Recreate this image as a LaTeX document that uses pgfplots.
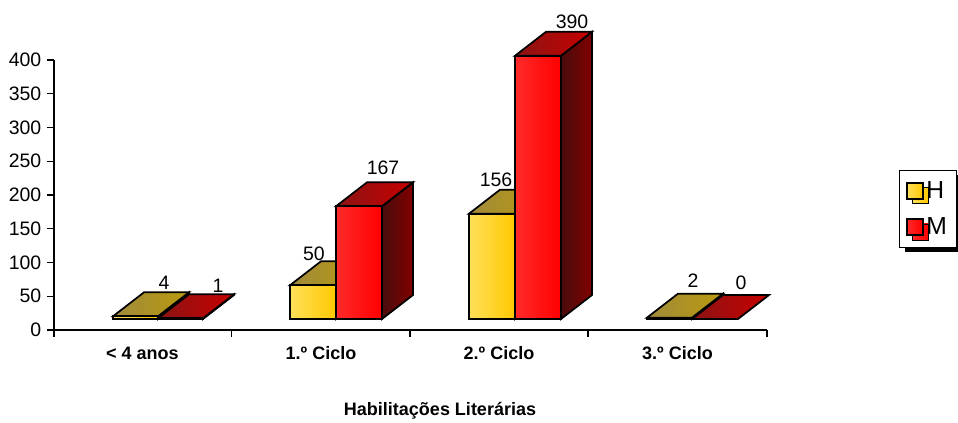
\documentclass[border=0pt]{standalone}
\usepackage{fontspec}
\setmainfont{Liberation Sans}
\usepackage{pgfplots}
\pgfplotsset{compat=1.18}
\usetikzlibrary{shadows}
\definecolor{hl}{HTML}{FFE05A}\definecolor{hr}{HTML}{FFC800}
\definecolor{htl}{HTML}{A08A3C}\definecolor{htr}{HTML}{BA9A0E}
\definecolor{ml}{HTML}{FF2A2A}\definecolor{mr}{HTML}{FF0000}
\definecolor{mtl}{HTML}{8A1414}\definecolor{mtr}{HTML}{C80000}
\definecolor{msl}{HTML}{4A0C0C}\definecolor{msr}{HTML}{800000}
\pgfplotsset{
    face/.style={draw=black, line width=1.3pt, line join=miter, mark=none, forget plot},
    hfront/.style={face, left color=hl, right color=hr},
    htop/.style={face, left color=htl, right color=htr},
    hside/.style={face, left color=msl, right color=msr},
    mfront/.style={face, left color=ml, right color=mr},
    mtop/.style={face, left color=mtl, right color=mtr},
    mside/.style={face, left color=msl, right color=msr},
    vals/.style={draw=none, mark=none, forget plot, point meta=explicit symbolic, nodes near coords,
        every node near coord/.append style={anchor=center, font=\fontsize{14.6}{16}\selectfont, text=black}},
}
\begin{document}
\begin{tikzpicture}[x=1pt,y=1pt]
\path[use as bounding box] (-40.5,-69) rectangle (678,247.5);
\begin{axis}[
    scale only axis, width=534.75pt, height=202.5pt,
    at={(0pt,0pt)}, anchor=south west,
    clip=false,
    xmin=54, xmax=767, ymin=0, ymax=400,
    axis x line=bottom, axis y line=left,
    axis line style={-, line width=0.8pt, black},
    tick align=outside, tick style={black, line width=0.8pt},
    xtick pos=bottom, ytick pos=left,
    major tick length=5pt,
    xtick={54,231.5,410,588,767}, xticklabels={},
    extra x ticks={142.5,321,499,677.5},
    extra x tick labels={< 4 anos,1.º Ciclo,2.º Ciclo,3.º Ciclo},
    extra x tick style={major tick length=0pt, tick label style={yshift=-9pt,
        font=\fontsize{13.5}{16}\bfseries}},
    ytick={0,50,...,400},
    /pgf/number format/assume math mode=true,
    y tick label style={font=\fontsize{14.6}{16}\selectfont, xshift=-1pt},
    xlabel={\fontsize{13.5}{16}\bfseries Habilitações Literárias},
    xlabel style={at={(axis description cs:0.5414,-0.3)}, anchor=center},
    legend style={at={(axis description cs:1.1851,0.5911)}, anchor=north west,
        draw=black, line width=0.6pt, fill=white,
        general shadow={fill=black, shadow xshift=4pt, shadow yshift=-3.5pt},
        font=\fontsize{18.5}{20}\selectfont, row sep=9pt,
        inner xsep=5pt, inner ysep=6pt, legend cell align=left},
    legend image code/.code={\draw[#1, line width=1.2pt] (0pt,-6pt) rectangle (12pt,6pt);},
]
% < 4 anos
\addplot[hside] coordinates {(158,16.3)(189,51.8)(189,55.8)(158,20.3)} --cycle;
\addplot[htop] coordinates {(113,20.3)(158,20.3)(189,55.8)(144,55.8)} --cycle;
\addplot[hfront] coordinates {(113,16.3)(158,16.3)(158,20.3)(113,20.3)} --cycle;
\addplot[mside] coordinates {(203,16.3)(234,51.8)(234,52.8)(203,17.3)} --cycle;
\addplot[mtop] coordinates {(158,17.3)(203,17.3)(234,52.8)(189,52.8)} --cycle;
\addplot[mfront] coordinates {(158,16.3)(203,16.3)(203,17.3)(158,17.3)} --cycle;
% 1.o Ciclo
\addplot[hside] coordinates {(336,16.3)(367,51.8)(367,101.8)(336,66.3)} --cycle;
\addplot[htop] coordinates {(290,66.3)(336,66.3)(367,101.8)(321,101.8)} --cycle;
\addplot[hfront] coordinates {(290,16.3)(336,16.3)(336,66.3)(290,66.3)} --cycle;
\addplot[mside] coordinates {(382,16.3)(413,51.8)(413,218.8)(382,183.3)} --cycle;
\addplot[mtop] coordinates {(336,183.3)(382,183.3)(413,218.8)(367,218.8)} --cycle;
\addplot[mfront] coordinates {(336,16.3)(382,16.3)(382,183.3)(336,183.3)} --cycle;
% 2.o Ciclo
\addplot[hside] coordinates {(515,16.3)(546,51.8)(546,207.8)(515,172.3)} --cycle;
\addplot[htop] coordinates {(469,172.3)(515,172.3)(546,207.8)(500,207.8)} --cycle;
\addplot[hfront] coordinates {(469,16.3)(515,16.3)(515,172.3)(469,172.3)} --cycle;
\addplot[mside] coordinates {(561,16.3)(592,51.8)(592,441.8)(561,406.3)} --cycle;
\addplot[mtop] coordinates {(515,406.3)(561,406.3)(592,441.8)(546,441.8)} --cycle;
\addplot[mfront] coordinates {(515,16.3)(561,16.3)(561,406.3)(515,406.3)} --cycle;
% 3.o Ciclo
\addplot[hside] coordinates {(692,16.3)(723,51.8)(723,53.8)(692,18.3)} --cycle;
\addplot[htop] coordinates {(647,18.3)(692,18.3)(723,53.8)(678,53.8)} --cycle;
\addplot[hfront] coordinates {(647,16.3)(692,16.3)(692,18.3)(647,18.3)} --cycle;
\addplot[mtop] coordinates {(692,16.3)(738,16.3)(769,51.8)(723,51.8)} --cycle;
% rotulos
\addplot[vals] table[meta=l] {
x y l
164 69.6 4
218 65.2 1
314 112.6 50
383 240 167
496 222 156
572 456 390
693 72.6 2
741 69.6 0
};
\addlegendimage{left color=hl, right color=hr, draw=black}
\addlegendentry{H\hspace{20pt}}
\addlegendimage{left color=ml, right color=mr, draw=black}
\addlegendentry{M\hspace{20pt}}
\end{axis}
\end{tikzpicture}
\end{document}
